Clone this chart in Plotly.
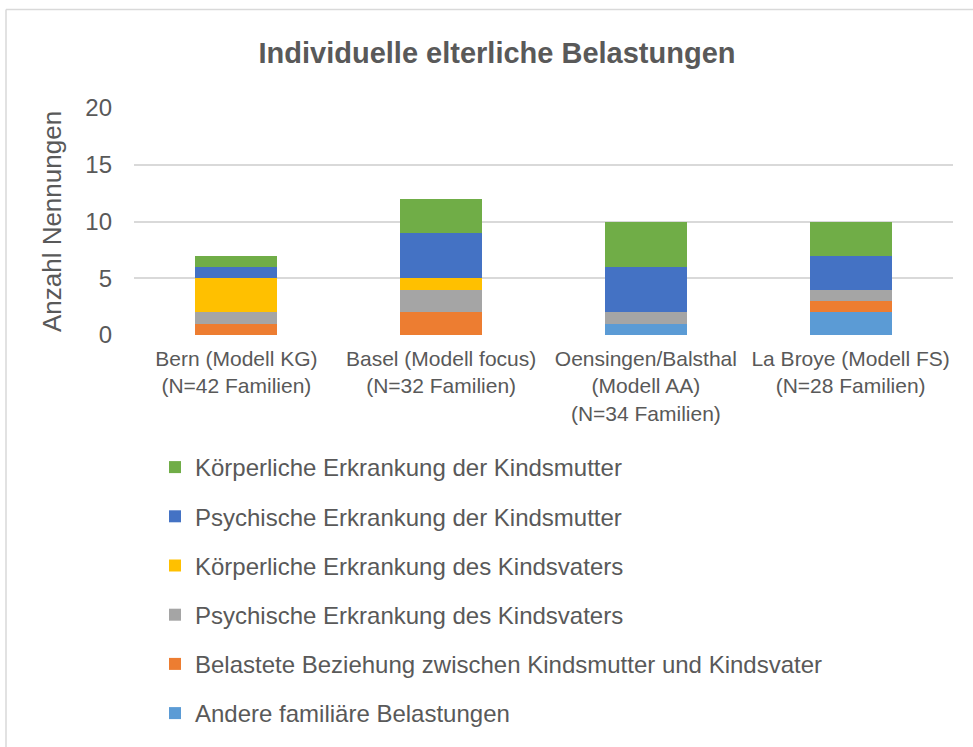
import plotly.graph_objects as go

categories = [
    "Bern (Modell KG)<br>(N=42 Familien)",
    "Basel (Modell focus)<br>(N=32 Familien)",
    "Oensingen/Balsthal<br>(Modell AA)<br>(N=34 Familien)",
    "La Broye (Modell FS)<br>(N=28 Familien)",
]

# bottom to top of stack
andere = [0, 0, 1, 2]
beziehung = [1, 2, 0, 1]
psych_vater = [1, 2, 1, 1]
koerper_vater = [3, 1, 0, 0]
psych_mutter = [1, 4, 4, 3]
koerper_mutter = [1, 3, 4, 3]

series = [
    ("Andere familiäre Belastungen", andere, "#5B9BD5"),
    ("Belastete Beziehung zwischen Kindsmutter und Kindsvater", beziehung, "#ED7D31"),
    ("Psychische Erkrankung des Kindsvaters", psych_vater, "#A5A5A5"),
    ("Körperliche Erkrankung des Kindsvaters", koerper_vater, "#FFC000"),
    ("Psychische Erkrankung der Kindsmutter", psych_mutter, "#4472C4"),
    ("Körperliche Erkrankung der Kindsmutter", koerper_mutter, "#70AD47"),
]

FONT = "Liberation Sans, Arial, Helvetica, sans-serif"
TXT = "#595959"

fig = go.Figure()
n = len(series)
for i, (name, vals, col) in enumerate(series):
    fig.add_trace(go.Bar(
        x=categories, y=vals, name=name,
        marker=dict(color=col, line=dict(width=0)),
        legendgroup=f"g{i}",
        legendrank=(n - i) * 10,
    ))

W, H = 973, 747
L, R, T, B = 134, 20, 108, 411
pw = W - L - R
ph = H - T - B

def px_x(p):
    return (p - L) / pw

def px_y(p):
    return (H - B - p) / ph

fig.update_layout(
    width=W, height=H,
    margin=dict(l=L, r=R, t=T, b=B, pad=0),
    paper_bgcolor="white", plot_bgcolor="white",
    barmode="stack", bargap=0.6,
    font=dict(family=FONT, color=TXT),
    title=dict(
        text="<b>Individuelle elterliche Belastungen</b>",
        font=dict(size=29, color=TXT, family=FONT),
        x=497 / W, xanchor="center", xref="container",
        y=1 - 53 / H, yanchor="middle", yref="container",
    ),
    xaxis=dict(
        showgrid=False, showline=False, zeroline=False,
        tickfont=dict(size=21, color=TXT),
        ticks="",
        ticklabelstandoff=9,
    ),
    yaxis=dict(
        range=[0, 20], dtick=5,
        showgrid=True, gridcolor="#D9D9D9", gridwidth=1.5,
        zeroline=False, showline=False,
        tickfont=dict(size=24, color=TXT),
        ticklabelstandoff=21,
        title=dict(text="Anzahl Nennungen", font=dict(size=26, color=TXT), standoff=16),
    ),
    legend=dict(
        orientation="v",
        x=px_x(155), xanchor="left",
        y=px_y(445), yanchor="top",
        traceorder="grouped",
        tracegroupgap=15,
        font=dict(size=24, color=TXT),
        bgcolor="rgba(0,0,0,0)",
    ),
    shapes=[
        dict(type="line", xref="paper", yref="paper",
             x0=px_x(6), x1=px_x(6), y0=px_y(9), y1=px_y(760),
             line=dict(color="#D9D9D9", width=1.5)),
        dict(type="line", xref="paper", yref="paper",
             x0=px_x(6), x1=px_x(990), y0=px_y(9), y1=px_y(9),
             line=dict(color="#D9D9D9", width=1.5)),
    ],
)

fig.write_html(
    "out.html",
    config={"displayModeBar": False},
    post_script="document.body.style.margin='0';document.body.style.overflow='hidden';",
)
